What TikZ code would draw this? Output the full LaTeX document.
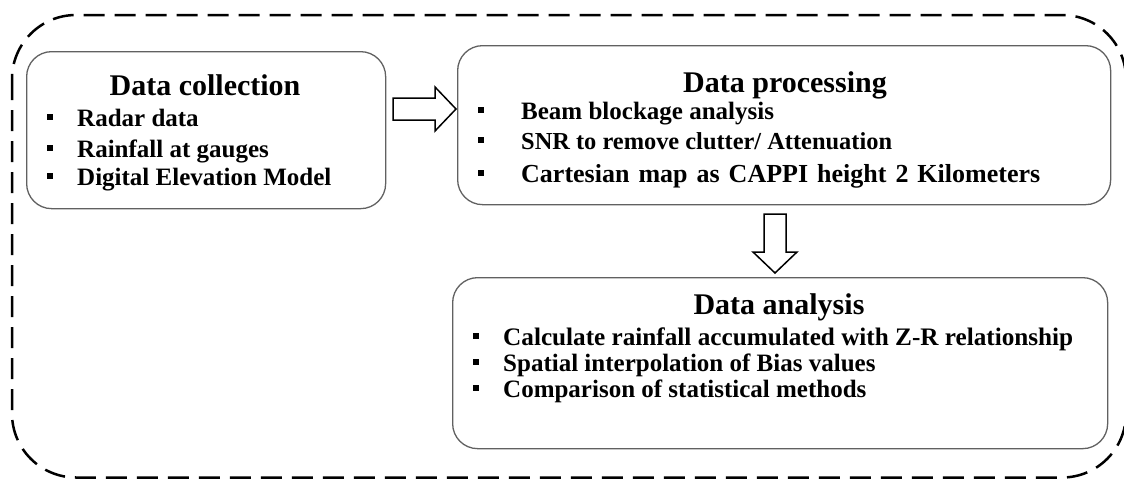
\documentclass[tikz,border=0pt]{standalone}
\usepackage{fontspec}
\setmainfont{Liberation Serif}
\begin{document}
\begin{tikzpicture}[x=1pt,y=-1pt,
  stage/.style={rectangle, draw=black!62, line width=1.3pt, rounded corners=25pt,
                inner sep=0pt, anchor=north west},
  title/.style={font=\fontsize{30}{36}\selectfont\bfseries, anchor=base, inner sep=0pt},
  item/.style={font=\fontsize{25}{30}\selectfont\bfseries, anchor=base west, inner sep=0pt},
  bulletmark/.style={rectangle, fill=black, minimum size=6.5pt, inner sep=0pt},
  blockarrow/.style={draw=black, line width=1.5pt, fill=white, line join=miter},
  outerframe/.style={draw=black, line width=2.5pt, dash pattern=on 21pt off 10pt,
                     rounded corners=64pt}]

\useasboundingbox (0,0) rectangle (1124,479);

% dashed outer frame
\draw[outerframe] (12,15) rectangle (1126,477.5);

% stage boxes
\node[stage, minimum width=359pt, minimum height=157pt] (coll) at (26,51) {};
\node[stage, minimum width=653pt, minimum height=159pt] (proc) at (457,45) {};
\node[stage, minimum width=655pt, minimum height=171pt] (anal) at (452,277) {};

% Data collection
\node[title] (collT) at (205,95) {Data collection};
\node[bulletmark] (c1b) at (50,117) {};
\node[item] (c1) at (77,126) {Radar data};
\node[bulletmark] (c2b) at (50,148) {};
\node[item] (c2) at (77,157) {Rainfall at gauges};
\node[bulletmark] (c3b) at (50,176) {};
\node[item] (c3) at (77,185) {Digital Elevation Model};

% Data processing
\node[title] (procT) at (785,92) {Data processing};
\node[bulletmark] (p1b) at (481,110) {};
\node[item] (p1) at (521,119) {Beam blockage analysis};
\node[bulletmark] (p2b) at (481,140) {};
\node[item, font=\fontsize{24.4}{30}\selectfont\bfseries] (p2) at (521,149)
  {SNR to remove clutter/ Attenuation};
\node[bulletmark] (p3b) at (481,173) {};
\node[item, font=\fontsize{26}{30}\selectfont\bfseries] (p3) at (521,182)
  {\spaceskip=9pt plus 1pt Cartesian map as CAPPI height 2 Kilometers};

% Data analysis
\node[title] (analT) at (779,314) {Data analysis};
\node[bulletmark] (a1b) at (476,336) {};
\node[item, font=\fontsize{25.2}{30}\selectfont\bfseries] (a1) at (503,345)
  {Calculate rainfall accumulated with Z-R relationship};
\node[bulletmark] (a2b) at (476,362) {};
\node[item] (a2) at (503,371) {Spatial interpolation of Bias values};
\node[bulletmark] (a3b) at (476,388) {};
\node[item] (a3) at (503,397) {Comparison of statistical methods};

% block arrows between the stages
\coordinate (arrR) at (393,109);
\draw[blockarrow] (arrR) ++(0,-11) -- ++(42,0) -- ++(0,-11) -- ++(21,22)
  -- ++(-21,22) -- ++(0,-11) -- ++(-42,0) -- cycle;
\coordinate (arrD) at (775,214);
\draw[blockarrow] (arrD) ++(-11,0) -- ++(22,0) -- ++(0,38) -- ++(11,0)
  -- ++(-22,21) -- ++(-22,-21) -- ++(11,0) -- cycle;
\end{tikzpicture}
\end{document}
